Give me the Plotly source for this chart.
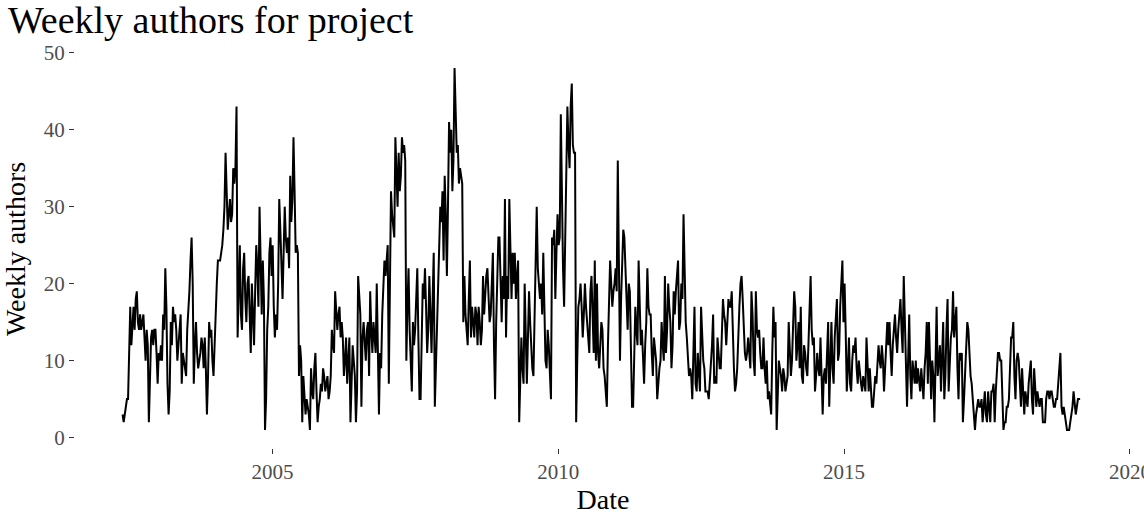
import pandas as pd
import plotly.graph_objects as go

# weekly author counts in consecutive chunks (~1.4 years each)
authors_2002 = [3, 2, 3, 4, 5, 5, 13, 17, 12, 15, 17, 14, 18, 19, 15, 14, 16, 14, 15, 16,
                13, 10, 14, 12, 2, 9, 13, 14, 12, 14, 14, 11, 7, 11, 10, 12, 10, 16, 14, 22,
                17, 7, 3, 6, 15, 12, 17, 15, 16, 14, 10, 12, 15, 16, 7, 11]
authors_2003 = [10, 9, 8, 14, 16, 19, 23, 26, 20, 7, 12, 15, 11, 9, 10, 11, 13, 12, 9, 13,
                9, 3, 8, 15, 13, 14, 10, 8, 12, 17, 20, 23, 23, 23, 24, 25, 27, 30, 37, 33,
                27, 29, 31, 28, 29, 35, 33, 35, 43, 13, 19, 25, 16, 14, 22, 24, 18, 15, 20, 21,
                16, 11, 20, 14, 12, 19, 25, 22, 17, 30, 24, 16, 23, 18, 1]
authors_2005 = [5, 14, 17, 24, 26, 21, 25, 17, 13, 16, 14, 20, 31, 27, 22, 18, 24, 30, 26, 24,
                26, 22, 34, 28, 31, 39, 32, 24, 25, 24, 8, 12, 10, 2, 8, 6, 3, 5, 4, 3,
                1, 9, 6, 5, 9, 11, 6, 2, 4, 5, 7, 6, 9, 8, 6, 7, 8, 5, 6, 8,
                14, 12, 11, 19, 17, 14, 16, 17, 13, 15, 13, 8, 10, 13]
authors_2006 = [7, 10, 13, 2, 9, 12, 10, 8, 2, 6, 21, 18, 16, 4, 13, 15, 12, 10, 14, 15,
                8, 19, 14, 11, 15, 13, 11, 20, 12, 3, 11, 9, 16, 19, 23, 21, 24, 25, 7, 20,
                32, 29, 27, 26, 39, 33, 30, 37, 32, 34, 39, 37, 38, 36, 10, 17, 22, 14, 10, 6,
                15, 12, 14, 20, 22, 13, 5, 5, 12, 20, 18, 22, 17, 11, 14]
authors_2007 = [21, 16, 11, 18, 24, 4, 9, 15, 19, 23, 30, 28, 32, 23, 34, 29, 21, 30, 41, 37,
                40, 32, 36, 48, 40, 37, 38, 33, 35, 34, 33, 15, 21, 16, 14, 12, 18, 23, 13, 17,
                15, 13, 17, 16, 12, 17, 15, 12, 14, 21, 16, 19, 21, 22, 17, 15, 16, 21, 24, 12,
                5, 15, 20, 26, 26, 20, 15, 21, 18, 31, 13, 21, 18, 31, 25, 18]
authors_2009 = [24, 20, 24, 18, 21, 23, 2, 8, 13, 9, 7, 20, 11, 7, 13, 19, 15, 11, 9, 8,
                16, 20, 30, 22, 19, 18, 20, 16, 24, 15, 10, 9, 14, 12, 9, 5, 26, 25, 27, 18,
                24, 29, 25, 26, 42, 30, 22, 17, 25, 30, 43, 38, 35, 43, 46, 38, 37, 37, 2, 10,
                17, 18, 20, 17, 13, 16, 20, 17, 15, 12, 11, 19, 21, 16, 11, 23, 10]
authors_2011 = [20, 11, 9, 12, 15, 14, 9, 8, 6, 4, 12, 18, 23, 20, 17, 19, 20, 22, 19, 36,
                22, 10, 18, 24, 27, 26, 23, 18, 14, 20, 19, 8, 4, 4, 13, 17, 14, 12, 23, 15,
                12, 14, 10, 7, 12, 15, 22, 17, 16, 16, 11, 8, 13, 11, 10, 5, 8, 9, 10, 15,
                12, 10, 21, 11, 14, 20, 17, 15, 9, 12, 19, 16, 19, 21, 23, 14]
authors_2012 = [15, 20, 18, 29, 20, 15, 13, 10, 8, 9, 8, 5, 10, 17, 7, 6, 11, 9, 6, 17,
                12, 10, 9, 6, 6, 6, 5, 7, 9, 12, 16, 7, 8, 7, 13, 10, 9, 9, 13, 18,
                16, 15, 12, 16, 18, 17, 17, 19, 12, 9, 6, 7, 9, 15, 17, 20, 21, 18, 14, 11,
                10, 11, 13, 10, 9, 19, 16, 10, 8, 19, 14, 13, 14, 11, 9]
authors_2014 = [9, 13, 9, 7, 10, 5, 6, 4, 3, 11, 17, 13, 15, 1, 6, 10, 9, 8, 6, 9,
                8, 6, 7, 8, 15, 11, 8, 10, 14, 19, 17, 10, 12, 15, 9, 17, 8, 7, 12, 11,
                9, 8, 12, 16, 21, 14, 12, 13, 6, 8, 11, 9, 8, 13, 7, 3, 8, 9, 7, 10,
                15, 4, 11, 15, 9, 7, 13, 16, 18, 10, 11, 17, 21, 23, 15]
authors_2015 = [20, 14, 6, 9, 13, 7, 6, 10, 12, 11, 13, 9, 7, 10, 8, 7, 6, 8, 7, 6,
                13, 10, 6, 9, 7, 4, 4, 6, 8, 7, 9, 12, 10, 9, 12, 10, 6, 9, 11, 15,
                12, 15, 11, 8, 12, 15, 16, 13, 11, 14, 16, 18, 14, 11, 21, 14, 9, 4, 10, 16,
                8, 5, 10, 8, 7, 10, 7, 9, 7, 6, 9, 7, 5, 9, 11, 15]
authors_2017 = [7, 15, 11, 5, 10, 8, 2, 12, 17, 8, 11, 12, 6, 12, 15, 5, 8, 14, 18, 6,
                10, 13, 14, 19, 13, 15, 17, 9, 5, 11, 10, 11, 2, 5, 8, 13, 15, 14, 10, 8,
                7, 5, 3, 1, 3, 4, 5, 4, 4, 5, 2, 4, 6, 3, 2, 6, 4, 2, 6, 6,
                7, 2, 6, 8, 11, 11, 10, 10, 6, 1, 2, 2, 4, 4, 5, 9, 13]
authors_2018 = [13, 15, 8, 5, 10, 11, 10, 7, 4, 9, 6, 3, 6, 5, 4, 7, 9, 10, 5, 3,
                9, 6, 4, 6, 5, 4, 5, 5, 2, 2, 2, 5, 6, 6, 5, 6, 6, 5, 4, 4,
                5, 5, 7, 10, 11, 4, 3, 4, 3, 2, 1, 1, 1, 2, 3, 4, 6, 4, 3, 4,
                5, 5, 5]

first_week = "2002-05-19"
year_ticks = ["2005", "2010", "2015", "2020"]

authors = (authors_2002 + authors_2003 + authors_2005 + authors_2006 + authors_2007
           + authors_2009 + authors_2011 + authors_2012 + authors_2014 + authors_2015
           + authors_2017 + authors_2018)
df = pd.DataFrame({
    "date": pd.date_range(first_week, periods=len(authors), freq="7D"),
    "authors": authors,
})

# padding like ggplot, a bit wider on the right so the 2020 break stays on the axis
x_range = [pd.Timestamp("2001-07-19"), pd.Timestamp("2020-01-08")]
y_pad = (df["authors"].max() - df["authors"].min()) * 0.05
y_range = [df["authors"].min() - y_pad, df["authors"].max() + y_pad]

serif = "Liberation Serif, Times New Roman, serif"
tick_font = dict(family=serif, size=21, color="#4d4d4d")

fig = go.Figure()
fig.add_trace(go.Scatter(
    x=df["date"], y=df["authors"],
    mode="lines",
    line=dict(color="black", width=2),
    name="Weekly authors",
))

fig.update_layout(
    width=1144, height=515,
    paper_bgcolor="white", plot_bgcolor="white",
    showlegend=False,
    font=dict(family=serif, color="black"),
    title=dict(text="Weekly authors for project", x=0.007, xanchor="left",
               y=0.988, yanchor="top", font=dict(family=serif, size=38, color="black")),
    margin=dict(l=75, r=13, t=50, b=67, autoexpand=False),
    xaxis=dict(
        title=dict(text="Date", font=dict(size=28)),
        range=x_range,
        tickvals=pd.to_datetime([f"{y}-01-01" for y in year_ticks]),
        ticktext=year_ticks,
        ticks="outside", ticklen=5, tickcolor="#333333",
        ticklabeloverflow="allow",
        showgrid=False, zeroline=False, showline=False,
        tickfont=tick_font,
        automargin=False,
    ),
    yaxis=dict(
        title=dict(text="Weekly authors", font=dict(size=28), standoff=12),
        range=y_range,
        tickvals=[0, 10, 20, 30, 40, 50],
        ticks="outside", ticklen=5, tickcolor="#333333",
        showgrid=False, zeroline=False, showline=False,
        tickfont=tick_font,
        automargin=False,
    ),
)

fig.write_html("out.html", config={"displayModeBar": False},
               post_script="document.body.style.margin='0';")
